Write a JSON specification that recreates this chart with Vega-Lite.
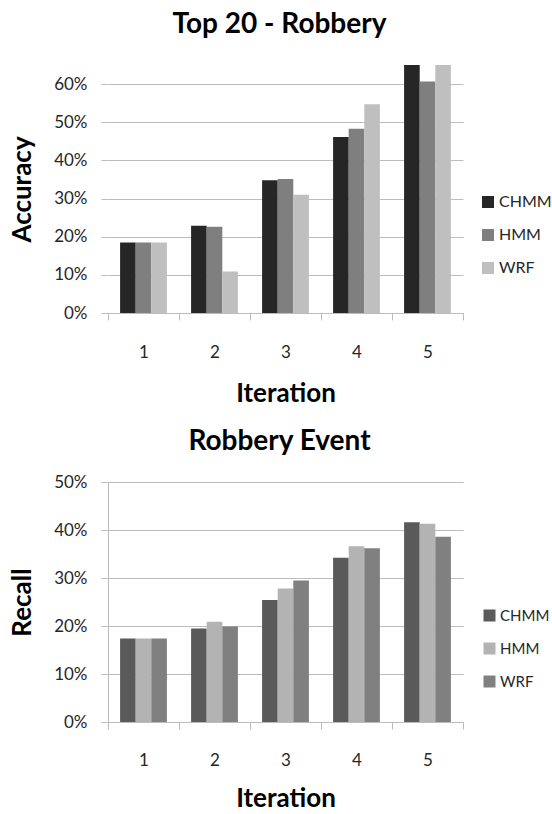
{
  "$schema": "https://vega.github.io/schema/vega-lite/v6.json",
  "padding": {"left": 9, "top": 11, "right": 0, "bottom": 0},
  "datasets": {
    "accuracy": [
      {"iteration": 1, "model": "CHMM", "value": 0.185},
      {"iteration": 1, "model": "HMM", "value": 0.185},
      {"iteration": 1, "model": "WRF", "value": 0.185},
      {"iteration": 2, "model": "CHMM", "value": 0.229},
      {"iteration": 2, "model": "HMM", "value": 0.226},
      {"iteration": 2, "model": "WRF", "value": 0.109},
      {"iteration": 3, "model": "CHMM", "value": 0.348},
      {"iteration": 3, "model": "HMM", "value": 0.351},
      {"iteration": 3, "model": "WRF", "value": 0.31},
      {"iteration": 4, "model": "CHMM", "value": 0.461},
      {"iteration": 4, "model": "HMM", "value": 0.483},
      {"iteration": 4, "model": "WRF", "value": 0.547},
      {"iteration": 5, "model": "CHMM", "value": 0.65},
      {"iteration": 5, "model": "HMM", "value": 0.607},
      {"iteration": 5, "model": "WRF", "value": 0.65}
    ],
    "recall": [
      {"iteration": 1, "model": "CHMM", "value": 0.174},
      {"iteration": 1, "model": "HMM", "value": 0.174},
      {"iteration": 1, "model": "WRF", "value": 0.174},
      {"iteration": 2, "model": "CHMM", "value": 0.195},
      {"iteration": 2, "model": "HMM", "value": 0.209},
      {"iteration": 2, "model": "WRF", "value": 0.199},
      {"iteration": 3, "model": "CHMM", "value": 0.254},
      {"iteration": 3, "model": "HMM", "value": 0.278},
      {"iteration": 3, "model": "WRF", "value": 0.295},
      {"iteration": 4, "model": "CHMM", "value": 0.342},
      {"iteration": 4, "model": "HMM", "value": 0.366},
      {"iteration": 4, "model": "WRF", "value": 0.362},
      {"iteration": 5, "model": "CHMM", "value": 0.416},
      {"iteration": 5, "model": "HMM", "value": 0.413},
      {"iteration": 5, "model": "WRF", "value": 0.386}
    ]
  },
  "spacing": 22,
  "resolve": {"scale": {"color": "independent"}, "legend": {"color": "independent"}},
  "vconcat": [
    {
      "title": {"text": "Top 20 - Robbery", "offset": 26},
      "width": 355,
      "height": 248,
      "data": {"name": "accuracy"},
      "mark": {"type": "bar", "clip": true},
      "encoding": {
        "x": {
          "field": "iteration", "type": "ordinal", "title": "Iteration",
          "scale": {"paddingInner": 0, "paddingOuter": 0},
          "axis": {"labelAngle": 0, "tickBand": "extent", "labelPadding": 24, "titlePadding": 20}
        },
        "xOffset": {"field": "model", "type": "nominal", "scale": {"paddingInner": 0, "paddingOuter": 0.775}},
        "y": {
          "field": "value", "type": "quantitative", "title": "Accuracy",
          "scale": {"domain": [0, 0.65], "nice": false},
          "axis": {"values": [0, 0.1, 0.2, 0.3, 0.4, 0.5, 0.6], "format": ".0%", "domain": false, "grid": true, "labelPadding": 14, "titlePadding": 18}
        },
        "color": {
          "field": "model", "type": "nominal",
          "scale": {"domain": ["CHMM", "HMM", "WRF"], "range": ["#262626", "#7f7f7f", "#bfbfbf"]},
          "legend": {"title": null, "orient": "none", "legendX": 372, "legendY": 129, "labelFontSize": 16, "rowPadding": 17}
        }
      }
    },
    {
      "title": {"text": "Robbery Event", "offset": 17},
      "width": 355,
      "height": 240,
      "data": {"name": "recall"},
      "mark": {"type": "bar", "clip": true},
      "encoding": {
        "x": {
          "field": "iteration", "type": "ordinal", "title": "Iteration",
          "scale": {"paddingInner": 0, "paddingOuter": 0},
          "axis": {"labelAngle": 0, "tickBand": "extent", "labelPadding": 23, "titlePadding": 17}
        },
        "xOffset": {"field": "model", "type": "nominal", "scale": {"paddingInner": 0, "paddingOuter": 0.775}},
        "y": {
          "field": "value", "type": "quantitative", "title": "Recall",
          "scale": {"domain": [0, 0.5], "nice": false},
          "axis": {"values": [0, 0.1, 0.2, 0.3, 0.4, 0.5], "format": ".0%", "domain": true, "grid": true, "labelPadding": 14, "titlePadding": 18}
        },
        "color": {
          "field": "model", "type": "nominal",
          "scale": {"domain": ["CHMM", "HMM", "WRF"], "range": ["#5a5a5a", "#b3b3b3", "#808080"]},
          "legend": {"title": null, "orient": "none", "legendX": 374, "legendY": 126, "labelFontSize": 15, "rowPadding": 17}
        }
      }
    }
  ],
  "config": {
    "font": "Lato",
    "view": {"stroke": null},
    "title": {"fontSize": 28, "fontWeight": "bold", "color": "#000000", "anchor": "middle", "dx": -6},
    "axis": {
      "labelFontSize": 17, "labelColor": "#262626",
      "titleFontSize": 26, "titleFontWeight": "bold", "titleColor": "#000000",
      "gridColor": "#bcbcbc", "domainColor": "#bcbcbc", "tickColor": "#bcbcbc", "tickSize": 7
    },
    "legend": {
      "symbolType": "square", "symbolSize": 144, "symbolStrokeWidth": 0,
      "labelColor": "#262626", "labelOffset": 3, "padding": 0
    }
  }
}
